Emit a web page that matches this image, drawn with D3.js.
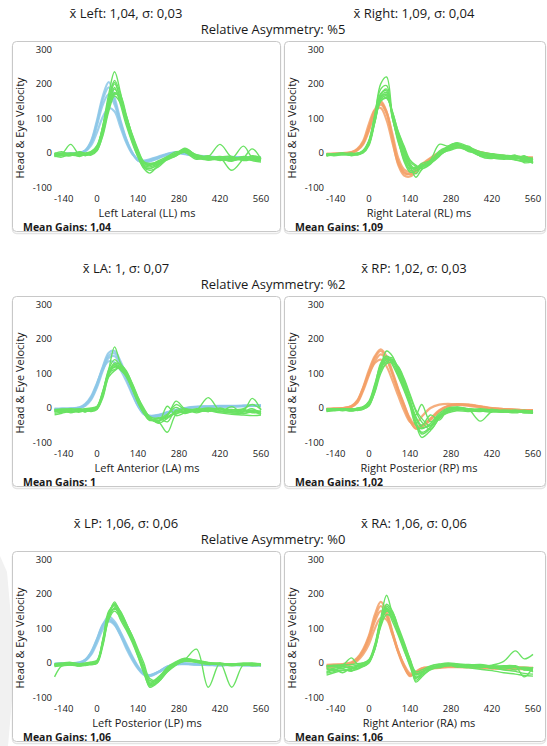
<!DOCTYPE html>
<html>
<head>
<meta charset="utf-8">
<script src="https://cdn.jsdelivr.net/npm/d3@7"></script>
<style>
  html, body { margin: 0; padding: 0; background: #fff; }
  svg { display: block; font-family: "Open Sans", "Noto Sans", sans-serif; }
</style>
</head>
<body>
<svg id="chart" width="547" height="746"></svg>
<script>
// Sample times (ms) shared by every velocity trace
const times = [-145,-120,-90,-60,-40,-20,0,20,40,60,80,100,120,140,160,180,210,240,270,300,340,380,420,460,500,530,560];

const xTicks = [-140, 0, 140, 280, 420, 560];
const yTicks = [-100, 0, 100, 200, 300];

// Left Lateral (LL)
const headLL = [
  [-4,-3,-2,0,8,35,95,165,205,160,95,40,2,-22,-28,-24,-15,-5,0,-2,-8,-12,-14,-12,-13,-14,-14],
  [-6,-5,-3,0,6,28,80,140,170,140,85,35,0,-20,-24,-20,-12,-4,2,-3,-10,-14,-15,-13,-14,-15,-15],
  [-3,-2,-1,1,5,22,60,105,130,120,75,30,-2,-18,-22,-18,-10,-2,3,0,-7,-10,-12,-11,-12,-12,-13],
  [-5,-4,-2,1,7,32,88,155,190,150,90,38,1,-21,-26,-22,-14,-4,1,-2,-9,-13,-14,-12,-13,-14,-15]
];
const eyeLL = [
  [-5,-2,25,-5,-3,0,15,80,170,235,175,95,40,-5,-35,-40,-30,-15,-5,8,-12,-15,-20,-18,-10,-15,-18],
  [-8,-6,-4,-6,-5,-2,10,60,135,185,150,100,45,0,-30,-35,-28,-18,-8,5,-10,-18,-15,-20,-15,-18,-20],
  [-3,-2,0,-3,-2,2,18,70,150,200,160,95,38,-8,-40,-45,-32,-12,0,10,-5,-12,-10,-16,20,-12,-15],
  [-10,-8,-6,-8,-6,-4,8,50,120,165,145,105,55,10,-25,-30,-25,-15,-6,2,-14,-20,-18,-22,-18,-20,-22],
  [-2,0,-2,2,0,5,20,75,145,190,140,80,30,-12,-45,-58,-35,-15,-2,12,-6,-10,25,-12,-14,-10,-16],
  [-6,-4,-4,-4,-3,0,12,65,140,175,155,100,45,0,-28,-32,-26,-14,-6,6,-10,-15,-14,-50,-16,12,-18],
  [-7,-5,-6,-5,-4,-1,14,68,142,170,165,110,50,4,-26,-34,-30,-16,-4,4,-12,-16,-18,-14,-20,-16,-20],
  [-2,4,-6,0,-8,2,16,72,155,210,170,102,42,-6,-38,-44,-34,-20,-8,6,-15,-8,-22,-12,-20,-8,-14],
  [-9,-12,-2,-10,-4,-6,6,55,128,172,158,108,52,6,-30,-36,-22,-10,4,2,-18,-12,-16,-24,-12,-22,-26],
  [0,-6,-8,4,-2,3,22,78,158,205,150,88,34,-10,-42,-50,-40,-18,-4,14,-8,-20,-12,-10,-22,-18,-12]
];

// Right Lateral (RL)
const headRL = [
  [-3,-2,-1,2,10,30,75,125,150,120,40,-35,-65,-68,-55,-40,-20,-2,12,18,10,0,-6,-10,-12,-14,-15],
  [-5,-4,-2,0,8,25,65,115,140,115,45,-25,-55,-62,-52,-38,-18,0,15,22,14,3,-4,-8,-10,-12,-13],
  [-2,-2,0,3,12,35,85,125,130,95,30,-30,-58,-60,-48,-32,-14,2,14,20,12,2,-5,-9,-11,-13,-14],
  [-4,-3,-1,1,9,28,70,120,145,118,55,-15,-48,-55,-50,-36,-16,1,13,19,11,1,-5,-9,-11,-13,-14]
];
const eyeRL = [
  [-5,-3,-2,-4,-2,5,35,110,200,220,110,40,-20,-45,-40,-35,-25,0,15,25,15,0,-5,-10,-8,-12,-15],
  [-8,-6,-4,-6,-4,2,25,95,160,170,100,40,-5,-40,-45,-38,-28,-5,12,22,10,-2,-8,-12,-15,-14,-18],
  [-3,-2,0,-2,0,6,30,100,165,175,110,45,0,-30,-50,-42,-20,25,20,28,12,-4,-10,-8,-14,-10,-20],
  [-6,-5,-3,-5,-3,3,28,90,150,160,115,55,10,-35,-70,-48,-30,-8,10,18,8,-6,-12,-15,-20,-25,-22],
  [-4,-2,-1,-3,-1,4,32,105,170,185,105,30,-15,-50,-45,-30,-22,2,18,30,18,4,-2,-6,-10,-16,-25],
  [-7,-5,-4,-6,-2,3,26,92,155,165,120,60,15,-25,-38,-40,-28,-6,8,16,6,-8,-14,-18,-16,-20,-30],
  [-5,-4,-3,-4,-1,4,30,98,162,168,112,50,5,-38,-42,-36,-26,-4,14,24,14,-3,-9,-13,-11,-18,-20],
  [-2,-6,0,-8,-3,8,38,112,185,195,100,35,-25,-55,-52,-40,-30,-10,20,28,10,-8,-2,-14,-18,-8,-28],
  [-9,-2,-6,-2,-5,0,22,88,150,158,118,62,20,-20,-35,-45,-32,-2,6,14,20,-10,-16,-6,-20,-22,-16],
  [-4,-8,-4,0,-6,5,34,102,172,180,108,42,-10,-42,-60,-38,-24,6,18,26,4,2,-14,-16,-6,-28,-24]
];

// Left Anterior (LA)
const headLA = [
  [-3,-2,-2,0,10,30,70,120,160,165,135,95,50,10,-15,-22,-20,-12,-5,0,4,5,6,6,7,8,8],
  [-5,-4,-3,-1,6,24,60,108,145,150,125,88,45,8,-16,-24,-22,-14,-6,-1,3,4,5,5,6,7,7],
  [-2,-2,-1,2,12,34,72,112,135,132,110,78,40,5,-18,-26,-24,-15,-7,-2,2,3,4,4,5,6,6],
  [-4,-3,-2,1,9,28,66,116,152,158,130,90,46,8,-16,-24,-21,-13,-6,-1,3,4,5,5,6,7,7]
];
const eyeLA = [
  [-5,-3,-4,-6,-3,-5,2,45,110,177,130,105,60,20,-10,-30,-35,-25,-12,-8,-5,0,-3,-5,-2,10,-4],
  [-10,-8,-12,-8,-10,-6,0,35,95,125,120,100,65,25,-8,-30,-38,-20,10,-5,-10,-6,-10,-8,-12,-6,-10],
  [-15,-12,-8,-10,-6,-8,-2,40,100,118,112,90,55,15,-15,-35,-40,-70,-18,-10,-6,30,-8,-12,-6,-10,-14],
  [-6,-4,-2,-4,-2,0,5,50,105,130,125,108,70,30,0,-25,-30,-22,20,-2,-4,-2,-6,-4,-8,28,-6],
  [-8,-6,-5,-7,-4,-3,3,42,100,112,115,95,58,18,-12,-32,-36,-28,-15,-12,-8,-4,-10,-14,-16,-12,-18],
  [-20,-15,-10,-12,-8,-10,-4,30,90,108,118,102,68,28,-5,-28,-42,5,-22,-14,-10,-8,-14,-18,-20,-22,-20],
  [-4,-10,-6,-2,-8,-2,4,48,112,140,122,98,62,22,-12,-34,-30,-18,2,-12,-2,-10,0,-10,-4,-14,-8],
  [-12,-6,-14,-6,-12,-4,-3,38,98,120,118,104,72,32,-4,-26,-44,-30,-10,-2,-14,-4,-12,4,-16,-8,-12],
  [-8,-12,-3,-9,-5,-7,1,44,104,125,110,92,56,16,-16,-36,-28,-40,-6,-16,-6,-10,-2,-14,-10,-2,-16]
];

// Right Posterior (RP)
const headRP = [
  [-3,-2,-1,5,20,60,110,150,170,150,105,55,10,-35,-60,-55,-35,-10,5,10,10,5,0,-3,-5,-6,-6],
  [-4,-3,-2,3,15,50,95,135,155,140,100,52,8,-30,-52,-50,-32,-8,6,11,9,4,-1,-3,-5,-6,-7],
  [-2,-2,0,6,22,58,100,130,140,120,80,35,-8,-40,-45,-25,0,10,12,10,6,2,-2,-4,-5,-6,-6],
  [-3,-2,0,4,18,55,104,145,165,142,98,48,4,-38,-58,-52,-30,-6,6,10,9,4,-1,-3,-5,-6,-6]
];
const eyeRP = [
  [-5,-3,-4,-6,-3,0,15,60,120,165,150,105,60,15,-40,-70,-55,-25,-5,0,-3,-6,-8,-10,-8,-10,-12],
  [-8,-6,-5,-8,-5,-2,10,50,110,140,135,110,70,20,-30,-55,-50,-20,-2,2,-4,-38,-10,-8,-10,-12,-10],
  [-3,-2,-2,-4,0,4,20,70,125,145,130,95,55,10,-45,-85,-65,-30,-8,-2,-6,-8,-12,-6,-9,-11,-13],
  [-10,-8,-6,-9,-6,-4,8,45,100,130,140,115,75,25,-20,10,-40,-15,0,3,-2,-5,-9,-12,-8,-14,-15],
  [-6,-4,-3,-5,-2,2,18,65,130,150,125,90,50,5,-50,-60,-45,-22,-6,-4,-8,-10,-4,-10,-14,-9,-10],
  [-4,-3,-2,-3,-2,1,12,55,115,135,140,118,80,35,-10,-40,-62,-30,-12,-4,-6,-2,-6,-8,-6,-8,-9],
  [-6,-2,-6,-2,-4,3,16,62,122,150,138,100,58,12,-42,-75,-58,-22,-10,2,-8,-4,-10,-12,-6,-14,-10],
  [-2,-6,-4,-6,-1,2,14,58,118,142,145,112,66,18,-25,-50,-20,-35,-4,-6,-2,-8,-4,-10,-12,-6,-14],
  [-9,-4,-8,-2,-7,-3,6,48,108,128,132,120,85,40,-5,-30,-52,-26,-14,-8,-10,-4,-8,-6,-10,-12,-8]
];

// Left Posterior (LP)
const headLP = [
  [-3,-2,-2,0,8,28,65,110,135,120,90,55,20,-10,-30,-35,-25,-10,-3,-2,-4,-5,-6,-5,-6,-6,-6],
  [-4,-3,-3,-1,6,24,58,98,120,110,82,48,15,-14,-32,-36,-26,-12,-4,-3,-5,-6,-7,-6,-7,-7,-7],
  [-2,-1,-1,2,10,32,70,112,128,112,80,42,10,-16,-34,-38,-27,-11,-2,-1,-3,-4,-5,-5,-5,-6,-6],
  [-3,-2,-2,1,9,30,68,108,124,115,86,50,16,-12,-31,-36,-26,-11,-3,-2,-4,-5,-6,-5,-6,-6,-6]
];
const eyeLP = [
  [-5,-3,-4,-6,-3,-5,0,60,140,177,140,105,70,30,-10,-55,-40,-15,0,8,5,0,-3,-5,-2,0,-4],
  [-40,-8,-5,-8,-6,-3,2,55,130,160,135,110,80,40,0,-45,-50,-20,-5,10,40,-70,0,-70,-5,-8,-6],
  [-6,-4,-2,-4,-2,0,5,65,145,170,150,115,75,25,-20,-70,-55,-25,-5,5,2,-2,-4,-6,-4,-2,-5],
  [-10,-8,-6,-9,-6,-4,-1,50,125,150,130,100,65,20,-25,-60,-45,-18,0,10,6,1,-2,-4,-5,-4,-3],
  [-2,0,2,-2,0,3,8,70,150,165,125,95,60,18,-30,-65,-52,-22,-2,6,3,-1,-5,-3,-6,-3,-8],
  [-7,-5,-4,-6,-4,-2,3,58,135,155,145,112,78,32,-15,-50,-48,-16,2,12,8,2,-1,-3,0,-1,-2],
  [-4,-6,-2,-8,-1,-4,2,62,138,168,142,108,72,28,-18,-62,-50,-20,-4,10,4,-2,0,-6,-2,-4,-6],
  [-8,-2,-6,-4,-7,-1,4,56,132,158,138,104,70,26,-22,-58,-44,-12,4,14,6,0,-4,-2,-6,-2,-4],
  [-3,-7,-1,-5,-2,1,6,66,142,172,148,114,76,30,-12,-66,-54,-26,-6,8,2,-4,-2,-8,-4,-6,-2]
];

// Right Anterior (RA)
const headRA = [
  [-5,-4,-3,2,15,40,80,140,177,150,90,35,-10,-38,-25,-15,-12,-10,-8,-8,-9,-10,-11,-12,-12,-13,-14],
  [-10,-8,-6,-2,10,32,68,120,150,135,85,30,-12,-35,-30,-18,-14,-12,-10,-10,-11,-12,-13,-14,-15,-16,-16],
  [-15,-12,-8,-4,6,25,55,100,130,125,82,32,-5,-30,-28,-20,-16,-14,-12,-12,-13,-14,-16,-17,-18,-18,-19],
  [-8,-6,-4,0,12,36,75,130,165,140,88,33,-8,-36,-27,-16,-13,-11,-9,-9,-10,-11,-12,-13,-13,-14,-15]
];
const eyeRA = [
  [-8,-6,-5,-4,-2,0,8,50,130,196,140,85,40,-10,-45,-30,-12,-8,-4,-6,-8,-10,-6,5,35,12,25],
  [-30,-25,-20,-22,-18,-10,0,40,110,160,135,90,45,0,-35,-25,-15,-10,-6,-8,-10,-12,-10,-14,-12,-15,-18],
  [-20,-15,-12,-14,-10,-6,5,45,120,170,150,100,50,5,-55,-40,-18,-6,-2,-4,-6,-8,-10,-8,-10,-40,-12],
  [-10,-8,-6,15,-2,0,10,55,125,155,120,80,35,-5,-40,-35,-20,-12,-8,-5,-4,-6,-8,-10,-14,-12,-15],
  [-35,-28,-22,-18,-12,-8,3,40,105,140,130,95,55,10,-30,-25,-15,-6,-4,-10,-14,-18,-22,-28,-32,-36,-38],
  [-12,-10,-8,-10,-6,-3,8,48,118,150,145,105,60,12,-25,-20,-8,-3,0,-2,-6,-4,-10,-12,-8,-20,-22],
  [-25,-18,-28,-14,-16,-4,6,46,115,165,142,96,48,2,-50,-35,-16,-8,-4,-12,-6,-14,-8,-18,-10,-20,-14],
  [-15,-22,-10,-16,-8,-10,2,42,112,150,138,92,52,8,-32,-28,-12,-14,-6,-4,-10,-6,-16,-10,-20,-14,-26],
  [-28,-20,-16,-24,-10,-6,4,50,122,158,128,88,42,-2,-42,-30,-10,-4,-8,-6,-12,-10,-14,-20,-24,-30,-32]
];

// Text content, one entry per row
const leftTitles  = ["x\u0304 Left: 1,04, σ: 0,03", "x\u0304 LA: 1, σ: 0,07", "x\u0304 LP: 1,06, σ: 0,06"];
const rightTitles = ["x\u0304 Right: 1,09, σ: 0,04", "x\u0304 RP: 1,02, σ: 0,03", "x\u0304 RA: 1,06, σ: 0,06"];
const asymmetry   = ["Relative Asymmetry: %5", "Relative Asymmetry: %2", "Relative Asymmetry: %0"];
const axisNames   = [["Left Lateral (LL) ms", "Right Lateral (RL) ms"],
                     ["Left Anterior (LA) ms", "Right Posterior (RP) ms"],
                     ["Left Posterior (LP) ms", "Right Anterior (RA) ms"]];
const meanGains   = [["1,04", "1,09"], ["1", "1,02"], ["1,06", "1,06"]];
const headSets    = [[headLL, headRL], [headLA, headRP], [headLP, headRA]];
const eyeSets     = [[eyeLL, eyeRL], [eyeLA, eyeRP], [eyeLP, eyeRA]];

const COLORS = { leftHead: "#8cc7e8", rightHead: "#f3a067", eye: "#6ae263", text: "#1a1a1a" };

const svg = d3.select("#chart");

// faint mark at the lower left edge of the page
svg.append("path")
  .attr("d", "M0,556 L7,572 L13,640 L12,700 L8,746 L0,746 Z")
  .attr("fill", "#f1f1f1");

const ROW_TOP = 41, ROW_STEP = 255, PANEL_H = 191;
const COL_X = [12, 284], COL_W = [269, 262];

for (let r = 0; r < 3; r++) {
  const top = ROW_TOP + r * ROW_STEP;

  svg.append("text")
    .attr("x", 126).attr("y", top - 28).attr("dy", "0.35em")
    .attr("text-anchor", "middle").attr("font-size", 13).attr("fill", COLORS.text)
    .text(leftTitles[r]);
  svg.append("text")
    .attr("x", 414).attr("y", top - 28).attr("dy", "0.35em")
    .attr("text-anchor", "middle").attr("font-size", 13).attr("fill", COLORS.text)
    .text(rightTitles[r]);
  svg.append("text")
    .attr("x", 273).attr("y", top - 12).attr("dy", "0.35em")
    .attr("text-anchor", "middle").attr("font-size", 13).attr("fill", COLORS.text)
    .text(asymmetry[r]);

  for (let c = 0; c < 2; c++) {
    const px = COL_X[c], w = COL_W[c];
    const g = svg.append("g");

    // panel frame with a soft shadow
    g.append("rect")
      .attr("x", px + 0.5).attr("y", top + 1.5).attr("width", w - 1).attr("height", PANEL_H)
      .attr("rx", 4).attr("fill", "none").attr("stroke", "#e4e4e4").attr("stroke-width", 1.5);
    g.append("rect")
      .attr("x", px + 0.5).attr("y", top + 0.5).attr("width", w - 1).attr("height", PANEL_H - 1)
      .attr("rx", 4).attr("fill", "#fff").attr("stroke", "#c8c8c8");

    const x = d3.scaleLinear().domain([-140, 560]).range([px + 44, px + 249]);
    const y = d3.scaleLinear().domain([-100, 300]).range([top + 146.6, top + 8.3]);

    // y ticks
    g.selectAll(null).data(yTicks).join("text")
      .attr("x", px + 40).attr("y", d => y(d)).attr("dy", "0.35em")
      .attr("text-anchor", "end").attr("font-size", 9.5).attr("fill", COLORS.text)
      .text(d => d);
    // x ticks; the first label starts just right of the y labels
    g.selectAll(null).data(xTicks).join("text")
      .attr("x", (d, i) => i === 0 ? px + 42 : x(d)).attr("y", top + 158).attr("dy", "0.35em")
      .attr("text-anchor", (d, i) => i === 0 ? "start" : "middle")
      .attr("font-size", 9.5).attr("fill", COLORS.text)
      .text(d => d);

    // axis titles
    g.append("text")
      .attr("x", px + 135).attr("y", top + 172).attr("dy", "0.35em")
      .attr("text-anchor", "middle").attr("font-size", 11).attr("fill", COLORS.text)
      .text(axisNames[r][c]);
    g.append("text")
      .attr("transform", `translate(${px + 8},${top + 87}) rotate(-90)`)
      .attr("dy", "0.35em").attr("text-anchor", "middle")
      .attr("font-size", 11).attr("fill", COLORS.text)
      .text("Head & Eye Velocity");

    g.append("text")
      .attr("x", px + 11).attr("y", top + 186.7).attr("dy", "0.35em")
      .attr("font-size", 10.5).attr("font-weight", 700).attr("fill", COLORS.text)
      .text("Mean Gains: " + meanGains[r][c]);

    const line = d3.line()
      .x((d, i) => x(times[i]))
      .y(d => y(d))
      .curve(d3.curveCatmullRom.alpha(0.5));

    // head velocity traces underneath, eye velocity traces on top
    g.append("g").selectAll("path").data(headSets[r][c]).join("path")
      .attr("d", line).attr("fill", "none")
      .attr("stroke", c === 0 ? COLORS.leftHead : COLORS.rightHead)
      .attr("stroke-width", 2.2).attr("stroke-opacity", 0.85);
    g.append("g").selectAll("path").data(eyeSets[r][c]).join("path")
      .attr("d", line).attr("fill", "none")
      .attr("stroke", COLORS.eye)
      .attr("stroke-width", 1.4);
  }
}
</script>
</body>
</html>
